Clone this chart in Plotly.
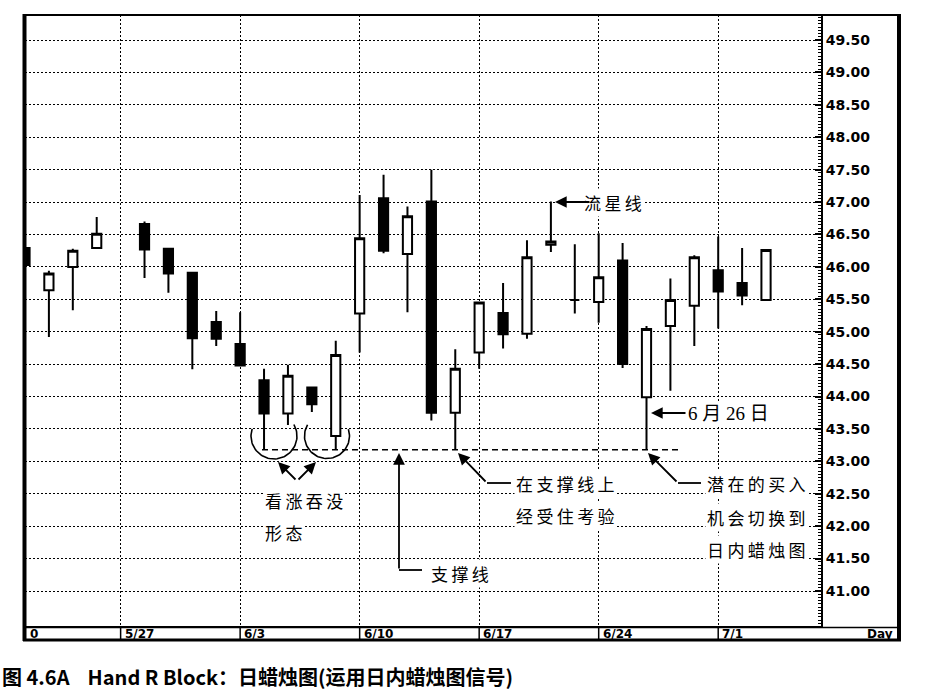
import numpy as np
import plotly.graph_objects as go

# ---------------- data ----------------
slots = [0, 1, 2, 3, 5, 6, 7, 8, 9, 10, 11, 12, 13, 14, 15, 16, 17, 18, 19, 20,
         21, 22, 23, 24, 25, 26, 27, 28, 29, 30, 31]
opens = [46.29, 45.64, 46.00, 46.29, 46.66, 46.28, 45.91, 45.15, 44.81, 44.25, 43.74,
         44.14, 43.39, 45.28, 47.06, 46.20, 47.01, 43.75, 44.68, 45.29, 44.97, 46.34,
         45.49, 45.46, 46.10, 43.99, 45.09, 45.40, 45.95, 45.75, 45.49]
highs = [46.30, 45.94, 46.28, 46.77, 46.70, 46.28, 45.91, 45.32, 45.30, 44.43, 44.49,
         44.14, 44.86, 47.11, 47.42, 46.93, 47.50, 44.73, 45.46, 45.75, 46.41, 47.01,
         46.35, 46.52, 46.37, 45.09, 45.82, 46.18, 46.47, 46.29, 46.26]
lows = [46.00, 44.92, 45.33, 46.29, 45.83, 45.60, 44.42, 44.78, 44.48, 43.18, 43.56,
        43.76, 43.18, 44.68, 46.21, 45.30, 43.63, 43.18, 44.43, 44.74, 44.89, 46.23,
        45.28, 45.14, 44.44, 43.18, 44.09, 44.78, 45.05, 45.41, 45.49]
closes = [46.03, 45.90, 46.25, 46.51, 46.27, 45.90, 44.90, 44.89, 44.48, 43.74, 44.32,
          43.88, 44.64, 46.44, 46.25, 46.78, 43.75, 44.43, 45.45, 44.96, 46.15, 46.39,
          45.49, 45.84, 44.50, 45.04, 45.49, 46.15, 45.62, 45.56, 46.26]

week_slots = [4, 9, 14, 19, 24, 29]
week_labels = ["5/27", "6/3", "6/10", "6/17", "6/24", "7/1"]
y_ticks = [41.0 + 0.5 * i for i in range(18)]
support_level = 43.18

# ---------------- geometry helpers (pixel -> axis) ----------------
L, R, T, B = 25, 821, 15, 626
XMIN, XMAX = 0.0, 33.3
YMIN, YMAX = 40.46, 49.886


def X(px):
    return XMIN + (px - L) / (R - L) * (XMAX - XMIN)


def Y(py):
    return YMAX - (py - T) / (B - T) * (YMAX - YMIN)


def PX(px):
    return (px - L) / (R - L)


def PY(py):
    return (B - py) / (B - T)


fig = go.Figure()
fig.add_trace(go.Candlestick(
    x=slots, open=opens, high=highs, low=lows, close=closes,
    increasing=dict(line=dict(color="black", width=2), fillcolor="white"),
    decreasing=dict(line=dict(color="black", width=2), fillcolor="black"),
    whiskerwidth=0, showlegend=False, hoverinfo="skip"))

# arcs around bullish engulfing patterns
for cx, cy, r, t0, t1 in [(274, 436, 23, -30, 198), (327, 436, 22.5, -18, 210)]:
    t = np.radians(np.linspace(t0, t1, 60))
    xs = [X(cx + r * np.cos(a)) for a in t]
    ys = [Y(cy + r * np.sin(a)) for a in t]
    fig.add_trace(go.Scatter(x=xs, y=ys, mode="lines", line=dict(color="black", width=1.6),
                             showlegend=False, hoverinfo="skip"))

shapes = []
# support line
shapes.append(dict(type="line", xref="x", yref="y", x0=X(262), x1=X(678), y0=support_level,
                   y1=support_level, line=dict(color="black", width=1.5, dash="6px,4px")))
# elbow lines for callouts
for (x0, y0, x1, y1) in [(399, 570, 422, 570), (487, 483, 511, 483), (678, 483, 701, 483)]:
    shapes.append(dict(type="line", xref="x", yref="y", x0=X(x0), x1=X(x1), y0=Y(y0), y1=Y(y1),
                       line=dict(color="black", width=1.8)))
# outer frame
shapes += [
    dict(type="line", xref="paper", yref="paper", x0=PX(24.5), x1=PX(24.5), y0=PY(14), y1=PY(641),
         line=dict(color="black", width=4)),
    dict(type="line", xref="paper", yref="paper", x0=PX(899), x1=PX(899), y0=PY(14), y1=PY(641),
         line=dict(color="black", width=4)),
    dict(type="line", xref="paper", yref="paper", x0=PX(23), x1=PX(901), y0=PY(15), y1=PY(15),
         line=dict(color="black", width=2)),
    dict(type="line", xref="paper", yref="paper", x0=PX(23), x1=PX(901), y0=PY(640), y1=PY(640),
         line=dict(color="black", width=3)),
    dict(type="line", xref="paper", yref="paper", x0=PX(25), x1=PX(899), y0=PY(627.5), y1=PY(627.5),
         line=dict(color="black", width=1.5)),
]
for s in week_slots:
    shapes.append(dict(type="line", xref="x", yref="paper", x0=s, x1=s, y0=PY(627), y1=PY(640),
                       line=dict(color="black", width=1.5)))

annotations = []
cjk = "Noto Sans CJK SC"
sp = "\u2009"


def txt(s, px, py, size=17):
    annotations.append(dict(text=sp.join(s), x=X(px), y=Y(py),
                            xref="x", yref="y", xanchor="left", yanchor="middle",
                            showarrow=False, bgcolor="white",
                            font=dict(family=cjk, size=size, color="black")))


def arrow(tip, tail):
    annotations.append(dict(text="", x=X(tip[0]), y=Y(tip[1]), ax=X(tail[0]), ay=Y(tail[1]),
                            xref="x", yref="y", axref="x", ayref="y", showarrow=True,
                            arrowhead=2, arrowsize=1.3, arrowwidth=1.8, arrowcolor="black"))


txt("流星线", 582, 202)
arrow((555, 202), (591, 202))
annotations.append(dict(text="6 月 26 日", x=X(686), y=Y(413), xref="x", yref="y",
                        xanchor="left", yanchor="middle", showarrow=False, bgcolor="white",
                        font=dict(family="Liberation Serif, " + cjk, size=19, color="black")))
arrow((651, 413), (687, 413))
txt("看涨吞没", 263, 500)
txt("形态", 263, 532)
arrow((278, 462), (297, 481))
arrow((316, 462), (297, 481))
arrow((399, 453), (399, 570))
txt("支撑线", 429, 573)
arrow((458, 453), (487, 483))
txt("在支撑线上", 514, 483)
txt("经受住考验", 514, 515)
arrow((648, 453), (678, 483))
txt("潜在的买入", 705, 483)
txt("机会切换到", 705, 517)
txt("日内蜡烛图", 705, 549)

# date strip labels
lab_font = dict(family="DejaVu Sans", size=12, color="black", weight="bold")
annotations.append(dict(text="0", x=PX(28), y=PY(634), xref="paper", yref="paper",
                        xanchor="left", yanchor="middle", showarrow=False, font=lab_font))
for s, lab in zip(week_slots, week_labels):
    annotations.append(dict(text=lab, x=s + 0.08, y=PY(634), xref="x", yref="paper",
                            xanchor="left", yanchor="middle", showarrow=False, font=lab_font))
annotations.append(dict(text="Day", x=PX(895), y=PY(634), xref="paper", yref="paper",
                        xanchor="right", yanchor="middle", showarrow=False, font=lab_font))
# caption
annotations.append(dict(text="图 4.6A    Hand R Block：日蜡烛图(运用日内蜡烛图信号)", x=PX(0),
                        y=PY(676), xref="paper", yref="paper", xanchor="left", yanchor="middle",
                        showarrow=False, font=dict(family=cjk, size=20, color="black",
                                                   weight="bold")))

fig.update_layout(
    width=933, height=695, margin=dict(l=L, r=933 - R, t=T, b=695 - B),
    paper_bgcolor="white", plot_bgcolor="white", boxgap=0.45,
    shapes=shapes, annotations=annotations, showlegend=False,
    xaxis=dict(range=[XMIN, XMAX], rangeslider=dict(visible=False), tickmode="array",
               tickvals=week_slots, showticklabels=False, ticks="", showgrid=True,
               gridcolor="black", gridwidth=1.3, griddash="2px,2px", zeroline=False,
               showline=True, linecolor="black", linewidth=1.5),
    yaxis=dict(range=[YMIN, YMAX], side="right", tickmode="array", tickvals=y_ticks,
               ticktext=[f"{v:.2f}" for v in y_ticks], ticks="inside", ticklen=6,
               tickwidth=1.5, tickcolor="black", showgrid=True, gridcolor="black",
               gridwidth=1.3, griddash="2px,2px", zeroline=False, showline=True,
               linecolor="black", linewidth=2,
               minor=dict(tickmode="linear", tick0=41.0, dtick=0.05, ticks="inside",
                          ticklen=3, tickwidth=1, tickcolor="black", showgrid=False),
               tickfont=dict(family="DejaVu Sans", size=14, color="black", weight="bold")),
)

fig.write_html("out.html", config={"displayModeBar": False},
               post_script="document.body.style.margin='0';")
